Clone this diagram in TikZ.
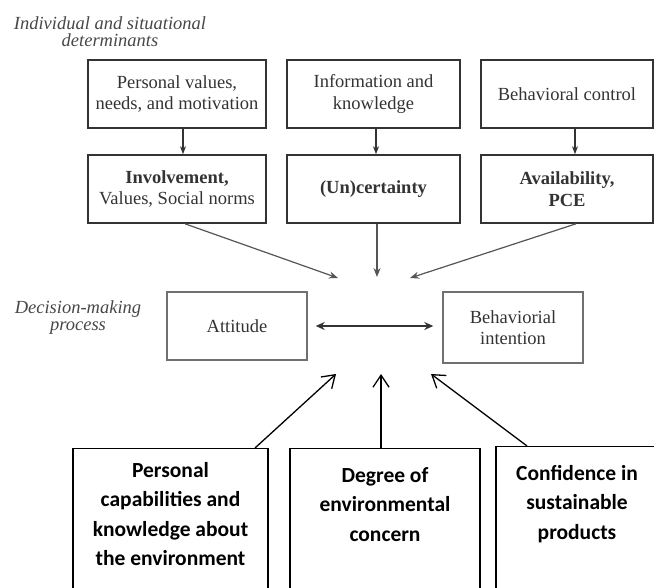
\documentclass[tikz,border=0pt]{standalone}
\usepackage{fontspec}
\setmainfont{Liberation Serif}
\newfontfamily\calibfont{Carlito}
\usetikzlibrary{arrows.meta,positioning}
\definecolor{detink}{HTML}{333333}
\definecolor{labink}{HTML}{474747}
\definecolor{convgrey}{HTML}{555555}
\definecolor{procline}{HTML}{707070}

\begin{document}
\begin{tikzpicture}[x=1pt,y=-1pt,
  detbox/.style={draw=detink,line width=1.6pt,text=detink,align=center,minimum height=68pt,inner sep=2pt,font=\fontsize{18.5}{21.5}\selectfont},
  proc/.style={draw=procline,line width=1.4pt,text=detink,align=center,minimum width=140pt,font=\fontsize{18.5}{21.5}\selectfont},
  sidelab/.style={text=labink,align=center,font=\fontsize{18.5}{17}\selectfont\itshape},
  factbox/.style={draw=black,line width=1.3pt,anchor=north,minimum height=170pt},
  facttext/.style={align=center,inner sep=0pt,font=\calibfont\bfseries\fontsize{21.5}{29.5}\selectfont}]
\useasboundingbox (0,0) rectangle (654,588);
\clip (0,0) rectangle (654,588);

% side labels
\node[sidelab] (detl) at (110,32) {Individual and situational\\determinants};
\node[sidelab] (procl) at (78,318) {Decision-making\\process};

% determinants, upper row
\node[detbox,minimum width=178pt] (pvn) at (177,94) {Personal values,\\needs, and motivation};
\node[detbox,minimum width=173pt] (ikn) at (373.5,94) {Information and\\knowledge};
\node[detbox,minimum width=172pt] (bctl) at (567,94) {Behavioral control};
% determinants, lower row
\node[detbox,minimum width=178pt] (invn) at (177,189) {\textbf{Involvement,}\\Values, Social norms};
\node[detbox,minimum width=173pt] (unc) at (373.5,189) {\textbf{(Un)certainty}};
\node[detbox,minimum width=172pt] (avpc) at (567,189) {\textbf{Availability,}\\\textbf{PCE}};

% decision-making process
\node[proc,minimum height=68pt] (att) at (237,326) {Attitude};
\node[proc,minimum height=71pt] (bint) at (513,327.5) {Behaviorial\\intention};

% consumer factors (cut off at the bottom)
\node[factbox,minimum width=195pt] (pcap) at (170.5,448) {};
\node[factbox,minimum width=190pt] (envc) at (385,448) {};
\node[factbox,minimum width=162pt] (conf) at (577,446) {};
\node[facttext,below=14pt of pcap.north] (pcapt) {Personal\\capabilities and\\knowledge about\\the environment};
\node[facttext,below=19pt of envc.north] (envct) {Degree of\\environmental\\concern};
\node[facttext,below=19pt of conf.north] (conft) {Confidence in\\sustainable\\products};

% arrows within the determinants
\draw[detink,line width=1.6pt,-{Stealth[length=8pt,width=6pt]}] ([xshift=6pt]pvn.south) -- ([xshift=6pt]invn.north);
\draw[detink,line width=1.6pt,-{Stealth[length=8pt,width=6pt]}] ([xshift=2.5pt]ikn.south) -- ([xshift=2.5pt]unc.north);
\draw[detink,line width=1.6pt,-{Stealth[length=8pt,width=6pt]}] ([xshift=8pt]bctl.south) -- ([xshift=8pt]avpc.north);

% converging arrows
\coordinate (tipl) at (338,278);
\coordinate (tipm) at (377,277);
\coordinate (tipr) at (410,278);
\draw[convgrey,line width=1.2pt,-{Stealth[length=9pt,width=7pt]}] ([xshift=8pt]invn.south) -- (tipl);
\draw[convgrey,line width=1.2pt,-{Stealth[length=9pt,width=7pt]}] ([xshift=3.5pt]unc.south) -- (tipm);
\draw[convgrey,line width=1.2pt,-{Stealth[length=9pt,width=7pt]}] ([xshift=9pt]avpc.south) -- (tipr);

% attitude <-> intention
\draw[detink,line width=2pt,{Stealth[length=9pt,width=8pt]}-{Stealth[length=9pt,width=8pt]},shorten <=8pt,shorten >=9pt] (att.east) -- (att.east -| bint.west);

% factor arrows
\coordinate (inl) at (336,374);
\coordinate (inm) at (381,374);
\coordinate (inr) at (431,374);
\draw[black,line width=1.3pt,-{Straight Barb[length=12pt,width=16pt]}] ([xshift=84.5pt]pcap.north) -- (inl);
\draw[black,line width=1.3pt,-{Straight Barb[length=12pt,width=16pt]}] ([xshift=-4pt]envc.north) -- (inm);
\draw[black,line width=1.3pt,-{Straight Barb[length=12pt,width=16pt]}] ([xshift=-50pt]conf.north) -- (inr);
\end{tikzpicture}
\end{document}
